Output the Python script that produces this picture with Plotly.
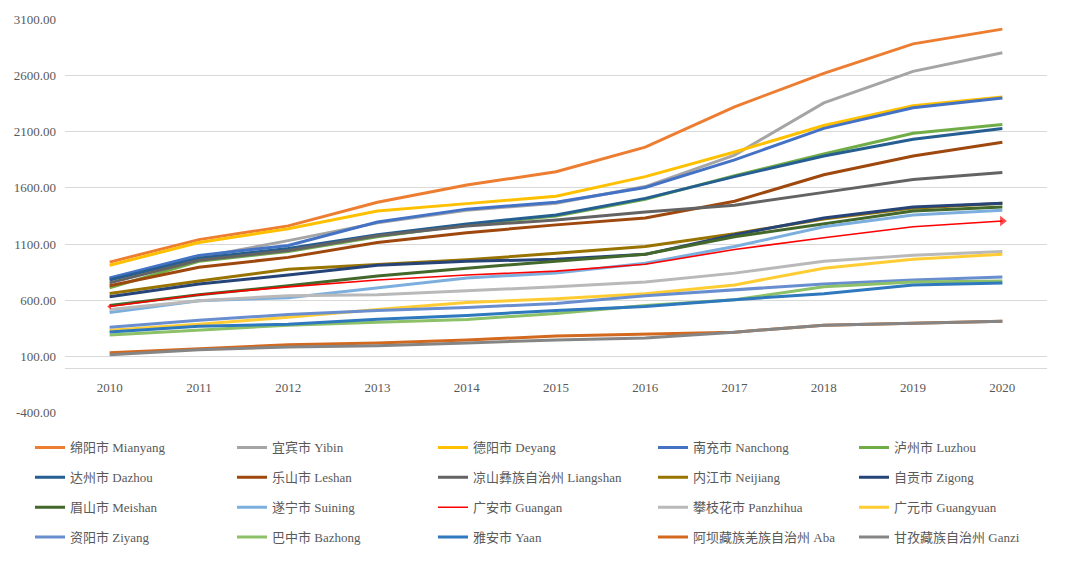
import plotly.graph_objects as go

years = [2010, 2011, 2012, 2013, 2014, 2015, 2016, 2017, 2018, 2019, 2020]
y_ticks = [-400, 100, 600, 1100, 1600, 2100, 2600, 3100]

names = ["绵阳市 Mianyang", "宜宾市 Yibin", "德阳市 Deyang", "南充市 Nanchong", "泸州市 Luzhou",
         "达州市 Dazhou", "乐山市 Leshan", "凉山彝族自治州 Liangshan", "内江市 Neijiang", "自贡市 Zigong",
         "眉山市 Meishan", "遂宁市 Suining", "广安市 Guangan", "攀枝花市 Panzhihua", "广元市 Guangyuan",
         "资阳市 Ziyang", "巴中市 Bazhong", "雅安市 Yaan", "阿坝藏族羌族自治州 Aba", "甘孜藏族自治州 Ganzi"]

mianyang = [940, 1140, 1262, 1472, 1625, 1744, 1962, 2321, 2619, 2881, 3012]
yibin = [790, 982, 1131, 1289, 1402, 1464, 1612, 1892, 2356, 2636, 2802]
deyang = [912, 1114, 1236, 1394, 1460, 1525, 1700, 1919, 2155, 2330, 2409]
nanchong = [799, 1000, 1087, 1297, 1411, 1472, 1604, 1849, 2129, 2312, 2400]
luzhou = [711, 947, 1035, 1166, 1271, 1350, 1499, 1709, 1901, 2085, 2164]
dazhou = [781, 974, 1061, 1184, 1280, 1359, 1507, 1700, 1884, 2032, 2129]
leshan = [729, 895, 982, 1114, 1201, 1271, 1332, 1481, 1717, 1884, 2006]
liangshan = [755, 956, 1044, 1175, 1262, 1315, 1385, 1446, 1560, 1674, 1736]
neijiang = [660, 772, 877, 921, 960, 1018, 1079, 1192, 1324, 1420, 1464]
zigong = [632, 746, 825, 912, 947, 965, 1009, 1184, 1332, 1429, 1464]
meishan = [554, 650, 729, 816, 886, 947, 1009, 1166, 1280, 1394, 1429]
suining = [492, 597, 624, 711, 799, 842, 930, 1079, 1254, 1359, 1402]
guangan = [545, 650, 720, 781, 825, 860, 921, 1052, 1157, 1254, 1306]
panzhihua = [519, 597, 641, 650, 685, 720, 764, 842, 947, 1000, 1035]
guangyuan = [335, 387, 449, 519, 580, 615, 659, 737, 886, 965, 1009]
ziyang = [361, 422, 475, 510, 536, 571, 641, 694, 746, 781, 807]
bazhong = [291, 335, 379, 405, 430, 484, 554, 606, 720, 764, 772]
yaan = [318, 370, 387, 431, 466, 510, 545, 606, 659, 737, 755]
aba = [134, 169, 204, 221, 247, 282, 300, 317, 379, 396, 414]
ganzi = [116, 160, 186, 195, 221, 247, 265, 317, 379, 396, 414]

series = [mianyang, yibin, deyang, nanchong, luzhou, dazhou, leshan, liangshan, neijiang, zigong,
          meishan, suining, guangan, panzhihua, guangyuan, ziyang, bazhong, yaan, aba, ganzi]

colors = ["#ED7D31", "#A5A5A5", "#FFC000", "#4472C4", "#70AD47",
          "#255E91", "#9E480E", "#636363", "#997300", "#264478",
          "#43682B", "#7CAFDD", "#FF0000", "#B9B9B9", "#FFCD33",
          "#698ED0", "#8CC168", "#2E78BE", "#D2691E", "#858585"]

FONT = "Liberation Serif, Noto Sans CJK SC, serif"
TXT = "#595959"

fig = go.Figure()
legend_ids = ["legend", "legend2", "legend3", "legend4", "legend5"]
for i, (nm, vals, col) in enumerate(zip(names, series, colors)):
    width = 1.6 if nm.endswith("Guangan") else 3
    fig.add_trace(go.Scatter(
        x=years, y=vals, name=nm, mode="lines",
        line=dict(color=col, width=width),
        legend=legend_ids[i % 5], legendgroup=nm,
        hoverinfo="skip"))

gi = names.index("广安市 Guangan")
fig.add_trace(go.Scatter(
    x=[years[0], years[-1]], y=[guangan[0], guangan[-1]], mode="markers",
    marker=dict(color=colors[gi], symbol=["triangle-left", "triangle-right"], size=[5, 9],
                line=dict(width=0)),
    showlegend=False, hoverinfo="skip"))

col_x = [35, 237, 438, 658, 859]
legend_top_px = 439
plot_left, plot_right, plot_top, plot_bottom = 65, 1047, 14, 419
layout_legends = {}
for k, lid in enumerate(legend_ids):
    layout_legends[lid] = dict(
        x=(col_x[k] - 37 + 32 - plot_left) / (plot_right - plot_left),
        xanchor="left",
        y=(plot_bottom - legend_top_px) / (plot_bottom - plot_top),
        yanchor="top",
        orientation="v", tracegroupgap=10, traceorder="grouped",
        font=dict(family=FONT, size=13, color=TXT),
        bgcolor="rgba(0,0,0,0)")

fig.update_layout(
    width=1080, height=564,
    margin=dict(l=plot_left, r=1080 - plot_right, t=plot_top, b=564 - plot_bottom),
    paper_bgcolor="white", plot_bgcolor="white",
    font=dict(family=FONT, size=13, color=TXT),
    showlegend=True,
    **layout_legends)

fig.update_xaxes(
    range=[years[0] - 0.5, years[-1] + 0.5],
    tickmode="array", tickvals=years, ticktext=[str(y) for y in years],
    showgrid=False, zeroline=False,
    showline=True, linecolor="#D9D9D9", linewidth=1,
    anchor="free", position=(0 - y_ticks[0] + 2) / (y_ticks[-1] - y_ticks[0] + 4),
    ticks="", tickfont=dict(family=FONT, size=13, color=TXT), ticklabelstandoff=8)

fig.update_yaxes(
    range=[y_ticks[0] - 2, y_ticks[-1] + 2],
    tickmode="array", tickvals=y_ticks, ticktext=[f"{v:.2f}" for v in y_ticks],
    showgrid=True, gridcolor="#D9D9D9", gridwidth=1, zeroline=False,
    showline=False, ticks="", tickfont=dict(family=FONT, size=13, color=TXT),
    ticklabelstandoff=8)

fig.write_html("out.html", config={"displayModeBar": False},
               post_script="document.body.style.margin='0';")
